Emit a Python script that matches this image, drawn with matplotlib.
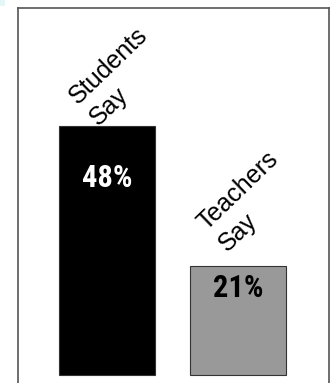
import matplotlib
matplotlib.use('Agg')
import matplotlib.pyplot as plt
from matplotlib.patches import Rectangle

# data
groups = ['Students\nSay', 'Teachers\nSay']
values = [48, 21]
value_labels = ['48%', '21%']

bar_colors = ['#000000', '#999999']
value_colors = ['white', 'black']
# where the group labels / value labels sit (data units)
group_label_y = [57.5, 33.5]
group_label_dx = [0.09, 0.08]
value_label_y = [37.9, 16.8]

W, H = 336, 383
fig = plt.figure(figsize=(W / 100, H / 100), dpi=100)
fig.patch.set_facecolor('white')

# light cyan notch in the corner
fig.patches.append(Rectangle((0, 1 - 6 / H), 5 / W, 6 / H, transform=fig.transFigure,
                             facecolor='#e4f6f6', edgecolor='none'))

ax = fig.add_axes([18 / W, 0, 311 / W, 375 / H])
x = list(range(len(values)))
ax.bar(x, values, width=0.733, color=bar_colors, edgecolor='#333333', linewidth=0.8)

ax.set_xlim(-0.679, 1.695)
ax.set_ylim(-1.54, 70.75)

for s in ['left', 'top', 'right']:
    ax.spines[s].set_color('#555555')
    ax.spines[s].set_linewidth(1.2)
ax.spines['bottom'].set_visible(False)
ax.set_xticks([])
ax.set_yticks([])

label_font = ['Liberation Sans', 'Arial', 'DejaVu Sans']
for i, g in enumerate(groups):
    ax.text(x[i] + group_label_dx[i], group_label_y[i], g, rotation=44,
            ha='center', va='center', multialignment='left',
            fontsize=18, family=label_font, linespacing=1.3)

num_font = ['Liberation Sans Narrow', 'Roboto Condensed', 'DejaVu Sans']
for i, lab in enumerate(value_labels):
    ax.text(x[i], value_label_y[i], lab, ha='center', va='center',
            color=value_colors[i], fontsize=22, fontweight='heavy',
            family=num_font, fontstretch='condensed')

fig.savefig('out.png', dpi=100, facecolor='white')
